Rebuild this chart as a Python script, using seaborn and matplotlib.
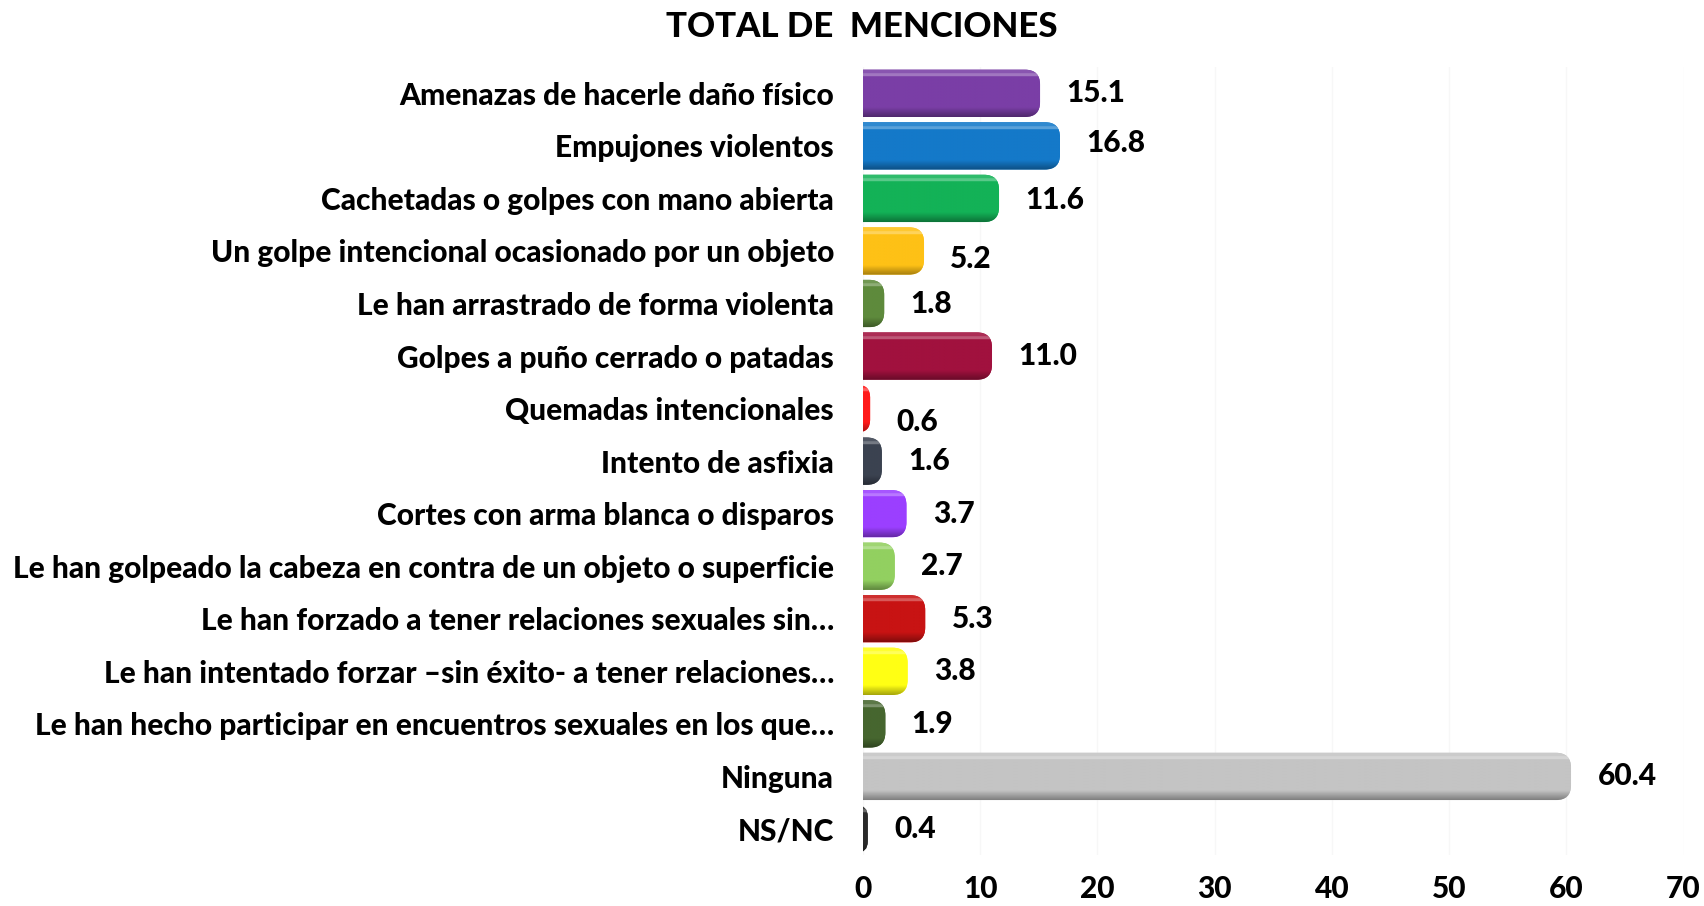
import numpy as np
import pandas as pd
import matplotlib
matplotlib.use("Agg")
import matplotlib.pyplot as plt
import matplotlib.colors as mcolors
from matplotlib.patches import FancyBboxPatch
import seaborn as sns

categorias = [
    "Amenazas de hacerle daño físico",
    "Empujones violentos",
    "Cachetadas o golpes con mano abierta",
    "Un golpe intencional ocasionado por un objeto",
    "Le han arrastrado de forma violenta",
    "Golpes a puño cerrado o patadas",
    "Quemadas intencionales",
    "Intento de asfixia",
    "Cortes con arma blanca o disparos",
    "Le han golpeado la cabeza en contra de un objeto o superficie",
    "Le han forzado a tener relaciones sexuales sin…",
    "Le han intentado forzar –sin éxito- a tener relaciones…",
    "Le han hecho participar en encuentros sexuales en los que…",
    "Ninguna",
    "NS/NC",
]
porcentajes = [15.1, 16.8, 11.6, 5.2, 1.8, 11.0, 0.6, 1.6, 3.7, 2.7, 5.3, 3.8, 1.9, 60.4, 0.4]
colores = [
    "#7a3ea6", "#1479c9", "#13b257", "#fec116", "#5e8a3c",
    "#a1113e", "#ff1a1a", "#3b4250", "#9b3fff", "#92d060",
    "#c81313", "#ffff14", "#46662f", "#c4c4c4", "#2a2a2a",
]
ticks_x = [0, 10, 20, 30, 40, 50, 60, 70]
titulo = "TOTAL DE  MENCIONES"

# vertical nudge (points) of a few value labels
ajuste_etiqueta = [0, 2, -1, -6, 0, 0, -10, 0, 0, 0, 0, 0, 0, 0, 0]

sns.set_theme(style="white")
plt.rcParams["font.family"] = ["Lato", "DejaVu Sans"]
plt.rcParams["text.color"] = "black"
plt.rcParams["xtick.color"] = "black"
plt.rcParams["ytick.color"] = "black"

PESO = "black"
TAM = 21.5

df = pd.DataFrame({"cat": categorias, "val": porcentajes})

fig = plt.figure(figsize=(17.04, 9.06), dpi=100)
ax = fig.add_axes([0.5065, 0.056, 0.4815, 0.870])

sns.barplot(data=df, y="cat", x="val", hue="cat", palette=colores,
            legend=False, width=0.9, ax=ax, orient="h")

ax.set_xlim(0, 70)
ax.set_ylim(len(categorias) - 0.5, -0.5)

# pixel-to-data ratio, used to keep the rounded ends circular
fig.canvas.draw()
bbox = ax.get_window_extent()
ux = 70 / bbox.width
uy = len(categorias) / bbox.height
aspecto = uy / ux
radio_px = 15

def mezcla(c, otro, t):
    a = np.array(mcolors.to_rgb(c))
    b = np.array(mcolors.to_rgb(otro))
    return tuple(a * (1 - t) + b * t)

for patch, col in zip(ax.patches, colores):
    x0 = patch.get_x()
    y0 = patch.get_y()
    w = patch.get_width()
    h = patch.get_height()
    patch.set_visible(False)
    inicio = x0 - 1.5
    ancho = w + 1.5
    r = min(radio_px * ux, ancho / 2, h / aspecto / 2)
    forma = FancyBboxPatch((inicio, y0), ancho, h,
                           boxstyle=f"round,pad=0,rounding_size={r}",
                           mutation_aspect=aspecto,
                           facecolor=col, edgecolor="none", zorder=2)
    ax.add_patch(forma)
    # cylindrical shading: thin light line near the top, darker towards the bottom
    t = np.linspace(0, 1, 80)
    filas = []
    for v in t:
        if v < 0.08:
            filas.append(mezcla(col, "white", 0.12))
        elif v < 0.14:
            filas.append(mezcla(col, "white", 0.3))
        elif v < 0.8:
            filas.append(mcolors.to_rgb(col))
        else:
            filas.append(mezcla(col, "black", 0.35 * (v - 0.8) / 0.2))
    grad = np.array(filas)[:, None, :]
    im = ax.imshow(grad, extent=(inicio, x0 + w, y0 + h, y0), aspect="auto",
                   interpolation="bilinear", zorder=3)
    im.set_clip_path(forma)

ax.set_xlim(0, 70)
ax.set_ylim(len(categorias) - 0.5, -0.5)

for i, (v, dy) in enumerate(zip(porcentajes, ajuste_etiqueta)):
    ax.annotate(f"{v:.1f}", xy=(v, i), xytext=(19, dy), textcoords="offset points",
                ha="left", va="center", fontsize=TAM, fontweight=PESO, color="black")

ax.set_xticks(ticks_x)
ax.set_xticklabels([str(t) for t in ticks_x], fontsize=TAM, fontweight=PESO)
ax.tick_params(axis="x", length=0, pad=14)
ax.tick_params(axis="y", length=0, pad=21, labelsize=TAM)
for lab in ax.get_yticklabels():
    lab.set_fontweight(PESO)
ax.set_xlabel("")
ax.set_ylabel("")
ax.grid(axis="x", color="#f7f7f7", linewidth=1)
ax.set_axisbelow(True)
sns.despine(ax=ax, left=True, bottom=True)

fig.text(0.506, 0.97, titulo, ha="center", va="center", fontsize=25,
         fontweight=PESO, color="black")

fig.savefig("out.png", dpi=100, facecolor="white")
